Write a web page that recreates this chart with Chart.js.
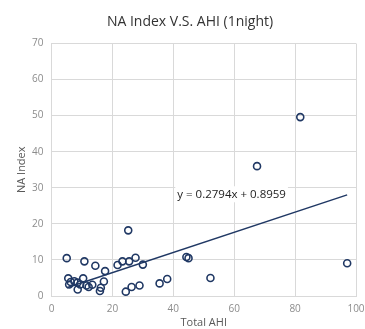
<!DOCTYPE html>
<html>
<head>
<meta charset="utf-8">
<script src="https://cdn.jsdelivr.net/npm/chart.js@4"></script>
<style>
  html, body { margin: 0; padding: 0; background: #fff; }
  #wrap { width: 365px; height: 329px; }
</style>
</head>
<body>
<div id="wrap"><canvas id="chart" width="365" height="329"></canvas></div>
<script>
// data
const totalAHI = [5.0, 5.5, 5.8, 6.3, 7.5, 8.5, 8.6, 9.4, 10.4, 10.8, 11.5, 12.2, 13.4, 14.4, 15.9, 16.2, 17.2, 17.6,
    21.7, 23.3, 24.4, 25.2, 25.5, 26.3, 27.6, 28.9, 30.0, 35.5, 38.0, 44.3, 45.0, 52.2, 67.5, 81.7, 97.1];
const naIndex = [10.5, 4.9, 3.2, 3.9, 4.1, 3.7, 1.8, 3.2, 4.9, 9.6, 2.9, 2.5, 3.1, 8.4, 1.4, 2.3, 4.0, 6.9,
    8.6, 9.6, 1.2, 18.2, 9.6, 2.5, 10.6, 2.9, 8.7, 3.5, 4.7, 10.8, 10.5, 5.0, 36.0, 49.6, 9.1];
const xTicks = [0, 20, 40, 60, 80, 100];
const yTicks = [0, 10, 20, 30, 40, 50, 60, 70];
const slope = 0.2794;
const intercept = 0.8959;
const titleText = 'NA Index V.S. AHI (1night)';
const equationText = 'y = 0.2794x + 0.8959';

const navy = '#203864';
const gridColor = '#d9d9d9';
const tickColor = '#8c8c8c';

const points = totalAHI.map((x, i) => ({ x: x, y: naIndex[i] }));

// linear trendline from smallest to largest x
const xMin = Math.min(...totalAHI);
const xMax = Math.max(...totalAHI);
const trend = [xMin, xMax].map(x => ({ x: x, y: slope * x + intercept }));

// chart title (Excel puts it a bit right of the canvas centre)
const chartTitle = {
    id: 'chartTitle',
    afterDraw(chart) {
        const ctx = chart.ctx;
        ctx.save();
        ctx.font = '14px "Open Sans"';
        ctx.fillStyle = '#333';
        ctx.textAlign = 'center';
        ctx.textBaseline = 'middle';
        ctx.fillText(titleText, 190, 22);
        ctx.restore();
    }
};

// equation label with white box
const equationLabel = {
    id: 'equationLabel',
    afterDatasetsDraw(chart) {
        const ctx = chart.ctx;
        const xs = chart.scales.x;
        const ys = chart.scales.y;
        const px = xs.getPixelForValue(41.3);
        const py = ys.getPixelForValue(28.2);
        ctx.save();
        ctx.font = '11.5px "Open Sans"';
        const w = ctx.measureText(equationText).width;
        ctx.fillStyle = '#fff';
        ctx.fillRect(px - 2, py - 8, w + 4, 16);
        ctx.fillStyle = '#222';
        ctx.textAlign = 'left';
        ctx.textBaseline = 'middle';
        ctx.fillText(equationText, px, py);
        ctx.restore();
    }
};

new Chart(document.getElementById('chart').getContext('2d'), {
    type: 'scatter',
    data: {
        datasets: [{
            label: 'NA Index',
            data: points,
            showLine: false,
            pointStyle: 'circle',
            pointRadius: 3.5,
            pointBorderWidth: 1.6,
            pointBorderColor: navy,
            pointBackgroundColor: 'rgba(255,255,255,0)',
            order: 1
        }, {
            label: 'Trend',
            data: trend,
            showLine: true,
            borderColor: navy,
            borderWidth: 1.5,
            pointRadius: 0,
            fill: false,
            order: 2
        }]
    },
    options: {
        responsive: false,
        animation: false,
        layout: { padding: { top: 43.5, right: 9 } },
        plugins: {
            legend: { display: false },
            tooltip: { enabled: false },
            title: { display: false }
        },
        scales: {
            x: {
                type: 'linear',
                min: 0,
                max: 100,
                afterBuildTicks: axis => { axis.ticks = xTicks.map(v => ({ value: v })); },
                afterFit: axis => {
                    axis.height = 33;
                    axis.paddingLeft = 0;
                    axis.paddingRight = 0;
                },
                grid: { color: gridColor, drawTicks: false },
                border: { color: gridColor },
                ticks: {
                    color: tickColor,
                    padding: 7,
                    font: { family: '"Open Sans"', size: 10 }
                },
                title: {
                    display: true,
                    text: 'Total AHI',
                    color: '#595959',
                    font: { family: '"Open Sans"', size: 11 },
                    padding: { top: 0, bottom: 0 }
                }
            },
            y: {
                type: 'linear',
                min: 0,
                max: 70,
                afterBuildTicks: axis => { axis.ticks = yTicks.map(v => ({ value: v })); },
                afterFit: axis => { axis.width = 51.5; },
                grid: { color: gridColor, drawTicks: false },
                border: { color: gridColor },
                ticks: {
                    color: tickColor,
                    padding: 8,
                    font: { family: '"Open Sans"', size: 10 }
                },
                title: {
                    display: true,
                    text: 'NA Index',
                    color: '#595959',
                    font: { family: '"Open Sans"', size: 11 },
                    padding: { top: 15, bottom: 0 }
                }
            }
        }
    },
    plugins: [chartTitle, equationLabel]
});
</script>
</body>
</html>
